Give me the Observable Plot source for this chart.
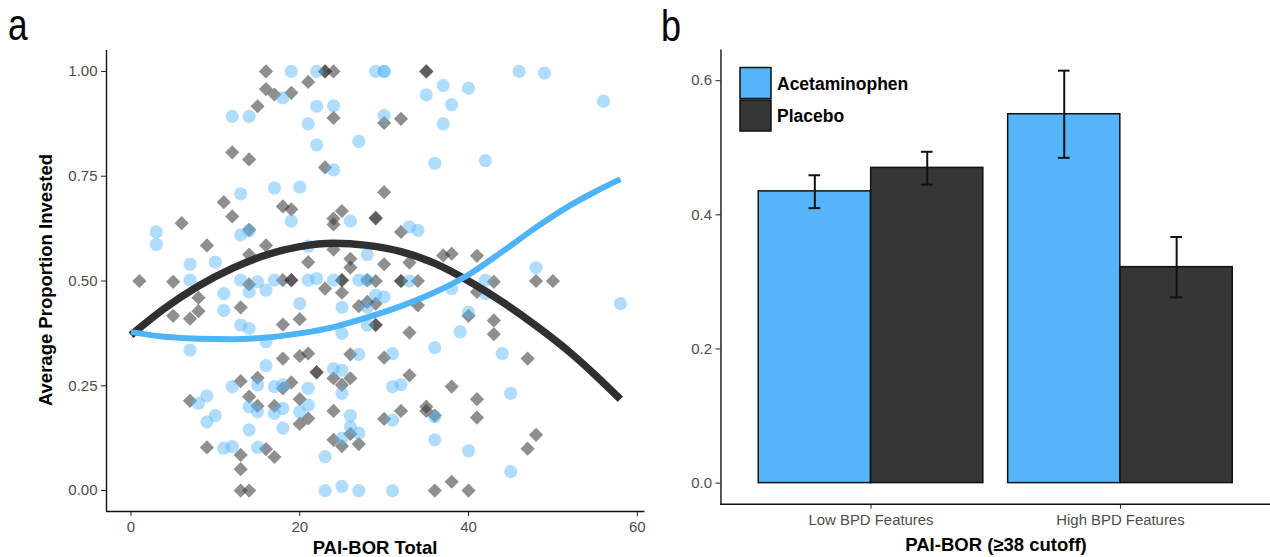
<!DOCTYPE html>
<html><head><meta charset="utf-8">
<script src="https://cdn.jsdelivr.net/npm/d3@7"></script>
<script src="https://cdn.jsdelivr.net/npm/@observablehq/plot@0.6"></script>
<style>
html,body{margin:0;padding:0;background:#fff;overflow:hidden;width:1270px;height:557px;}
#wrap{position:relative;width:1270px;height:557px;overflow:hidden;font-family:"Liberation Sans",Arial,sans-serif;}
.panel{position:absolute;top:0;}
#overlay{position:absolute;left:0;top:0;pointer-events:none;}
</style></head>
<body><div id="wrap"><div id="pa" class="panel" style="left:0"></div><div id="pb" class="panel" style="left:638px"></div><svg id="overlay" width="1270" height="557"></svg></div>
<script>
// ---------- Panel a data ----------
const xDomainA = [-2.9, 60.9];
const yDomainA = [-0.05, 1.05];
const xTicksA = [0, 20, 40, 60];
const yTicksA = [0, 0.25, 0.5, 0.75, 1];

const placeboX = [16,23,23,24,21,16,17,19,15,24,12,14,23,11,12,18,19,25,24,24,6,29,9,14,14,16,21,24,26,26,
  35,35,30,32,30,29,32,37,38,41,30,33,
  1,5,14,18,19,19,23,25,25,25,28,8,5,7,8,13,18,20,27,28,29,18,20,21,26,22,22,13,15,19,18,24,25,26,7,14,15,17,20,24,20,21,26,24,25,27,9,13,16,17,13,13,14,
  29,32,32,34,43,48,50,29,34,41,29,33,40,43,43,30,47,33,38,41,30,32,35,35,36,41,48,47,36,38,40];
const placeboY = [1.00,1.00,1.00,1.00,0.975,0.958,0.945,0.949,0.917,0.889,0.807,0.79,0.771,0.688,0.654,0.678,0.671,0.667,0.649,0.635,0.638,0.649,0.585,0.622,0.563,0.585,0.545,0.575,0.553,0.532,
  1.00,1.00,0.877,0.887,0.712,0.651,0.617,0.561,0.565,0.56,0.54,0.544,
  0.50,0.498,0.492,0.502,0.502,0.502,0.482,0.502,0.502,0.472,0.502,0.46,0.417,0.41,0.428,0.437,0.396,0.409,0.44,0.45,0.395,0.315,0.321,0.327,0.325,0.282,0.282,0.261,0.269,0.258,0.244,0.268,0.252,0.268,0.214,0.224,0.202,0.202,0.218,0.19,0.159,0.172,0.135,0.121,0.106,0.111,0.103,0.085,0.099,0.08,0.051,0.0,0.0,
  0.50,0.50,0.50,0.50,0.498,0.50,0.50,0.446,0.442,0.474,0.395,0.377,0.417,0.406,0.373,0.317,0.315,0.275,0.248,0.218,0.171,0.19,0.2,0.19,0.179,0.174,0.133,0.10,0.0,0.021,0.0];

const acetX = [19,22,18,22,24,12,14,21,22,27,24,17,20,13,19,26,3,3,13,14,7,10,28,21,
  29,30,30,46,49,56,37,40,35,38,37,30,36,42,33,34,48,
  7,11,11,13,15,16,14,17,21,22,24,27,28,20,25,28,13,14,25,28,16,7,27,16,24,25,12,15,17,18,21,25,9,8,14,15,17,18,20,21,10,9,14,18,26,26,27,25,11,12,15,23,23,25,27,
  29,30,33,38,42,42,40,39,36,31,44,31,32,45,31,36,36,40,45,31,58];
const acetY = [1.0,1.0,0.937,0.917,0.918,0.893,0.893,0.875,0.825,0.833,0.765,0.722,0.724,0.708,0.643,0.643,0.617,0.587,0.61,0.62,0.54,0.545,0.563,0.583,
  1.0,1.0,1.0,1.0,0.996,0.929,0.966,0.96,0.944,0.921,0.875,0.895,0.781,0.787,0.629,0.621,0.532,
  0.502,0.47,0.43,0.502,0.498,0.478,0.474,0.502,0.502,0.506,0.502,0.502,0.502,0.446,0.437,0.438,0.395,0.387,0.375,0.395,0.355,0.335,0.325,0.298,0.291,0.287,0.248,0.252,0.248,0.252,0.244,0.232,0.226,0.208,0.2,0.188,0.184,0.196,0.188,0.204,0.179,0.164,0.145,0.149,0.179,0.152,0.137,0.125,0.101,0.105,0.103,0.081,0.0,0.01,0.0,
  0.466,0.462,0.5,0.482,0.502,0.47,0.426,0.379,0.341,0.327,0.327,0.248,0.253,0.232,0.168,0.176,0.121,0.095,0.045,0.0,0.446];

// fitted curves
const placeboCurveX = [0,4,8,12,16,20,24,28,32,36,40,44,48,52,55,58];
const placeboCurveY = [0.371,0.435,0.488,0.53,0.562,0.582,0.59,0.585,0.570,0.542,0.500,0.450,0.393,0.330,0.276,0.218];
const acetCurveX = [0,4,8,12,16,20,24,28,32,36,40,44,48,52,55,58];
const acetCurveY = [0.378,0.367,0.362,0.361,0.365,0.375,0.39,0.413,0.44,0.473,0.515,0.570,0.628,0.680,0.713,0.743];

// ---------- Panel b data ----------
const groups = ["Low BPD Features", "High BPD Features"];
const treatments = ["Acetaminophen", "Placebo"];
const acetMean = [0.435, 0.550];
const acetLo = [0.410, 0.485];
const acetHi = [0.459, 0.615];
const placeboMean = [0.470, 0.322];
const placeboLo = [0.445, 0.277];
const placeboHi = [0.494, 0.367];
const yDomainB = [-0.0316, 0.6455];
const yTicksB = [0, 0.2, 0.4, 0.6];

const colBlue = "#56b5fa", colDark = "#363636";
const fontFam = "'Liberation Sans', Arial, sans-serif";

const placebo = placeboX.map((x, i) => ({x, y: placeboY[i]}));
const acet = acetX.map((x, i) => ({x, y: acetY[i]}));
const placeboCurve = placeboCurveX.map((x, i) => ({x, y: placeboCurveY[i]}));
const acetCurve = acetCurveX.map((x, i) => ({x, y: acetCurveY[i]}));

const plotA = Plot.plot({
  width: 660, height: 557,
  marginLeft: 106, marginRight: 15.6, marginTop: 50, marginBottom: 46,
  x: {domain: xDomainA},
  y: {domain: yDomainA},
  style: {fontFamily: fontFam, fontSize: "15px", background: "transparent", color: "#222"},
  marks: [
    Plot.dot(placebo, {x: "x", y: "y", symbol: d3.symbolDiamond2, r: 6.4, fill: "#333333", fillOpacity: 0.55, stroke: "none"}),
    Plot.dot(acet, {x: "x", y: "y", r: 6.6, fill: colBlue, fillOpacity: 0.46, stroke: "none"}),
    Plot.line(placeboCurve, {x: "x", y: "y", stroke: "#303030", strokeWidth: 7.5, strokeLinecap: "butt", curve: "monotone-x"}),
    Plot.line(acetCurve, {x: "x", y: "y", stroke: "#4fb3f7", strokeWidth: 6, strokeLinecap: "butt", curve: "monotone-x"}),
    Plot.ruleX([xDomainA[0]], {stroke: "#111", strokeWidth: 1.4}),
    Plot.ruleY([yDomainA[0]], {stroke: "#111", strokeWidth: 1.4}),
    Plot.axisY({ticks: yTicksA, tickFormat: d3.format(".2f"), tickSize: 5, tickPadding: 4, label: null, fill: "#4d4d4d", stroke: "#222"}),
    Plot.axisX({ticks: xTicksA, tickFormat: d3.format("d"), tickSize: 5, tickPadding: 5, label: null, fill: "#4d4d4d", stroke: "#222"})
  ]
});
document.getElementById("pa").appendChild(plotA);

// panel b geometry for dodging within a band
const wB = 636, mlB = 83, mrB = 0, padIn = 0.1, padOut = 0.15;
const stepB = (wB - mlB - mrB) / (groups.length - padIn + 2 * padOut);
const bwB = stepB * (1 - padIn);
const capHalf = 6;

const acetRows = groups.map((g, i) => ({group: g, value: acetMean[i], lo: acetLo[i], hi: acetHi[i]}));
const placeboRows = groups.map((g, i) => ({group: g, value: placeboMean[i], lo: placeboLo[i], hi: placeboHi[i]}));

const errMarks = (rows, dx) => [
  Plot.ruleX(rows, {x: "group", y1: "lo", y2: "hi", dx, stroke: "#111", strokeWidth: 2}),
  Plot.tickY(rows, {x: "group", y: "hi", dx, insetLeft: bwB / 2 - capHalf, insetRight: bwB / 2 - capHalf, stroke: "#111", strokeWidth: 2}),
  Plot.tickY(rows, {x: "group", y: "lo", dx, insetLeft: bwB / 2 - capHalf, insetRight: bwB / 2 - capHalf, stroke: "#111", strokeWidth: 2})
];

const plotB = Plot.plot({
  width: wB, height: 557,
  marginLeft: mlB, marginRight: mrB, marginTop: 50, marginBottom: 50,
  x: {domain: groups, paddingInner: padIn, paddingOuter: padOut, align: 0.5},
  y: {domain: yDomainB},
  style: {fontFamily: fontFam, fontSize: "15px", background: "transparent", color: "#222"},
  marks: [
    Plot.barY(acetRows, {x: "group", y: "value", fill: colBlue, stroke: "#111", strokeWidth: 1.5, insetRight: bwB / 2}),
    Plot.barY(placeboRows, {x: "group", y: "value", fill: colDark, stroke: "#111", strokeWidth: 1.5, insetLeft: bwB / 2}),
    ...errMarks(acetRows, -bwB / 4),
    ...errMarks(placeboRows, bwB / 4),
    Plot.frame({anchor: "left", stroke: "#111", strokeWidth: 1.4}),
    Plot.frame({anchor: "bottom", stroke: "#111", strokeWidth: 1.4}),
    Plot.axisY({ticks: yTicksB, tickFormat: d3.format(".1f"), tickSize: 5, tickPadding: 4, label: null, fill: "#4d4d4d", stroke: "#222"}),
    Plot.axisX({tickSize: 5, tickPadding: 5, label: null, fill: "#4d4d4d", stroke: "#222"})
  ]
});
document.getElementById("pb").appendChild(plotB);

// ---------- overlay texts & legend ----------
const ov = d3.select("#overlay").style("font-family", fontFam);
ov.append("text").attr("transform", "translate(8,40) scale(0.8,1)").attr("font-size", 44).text("a");
ov.append("text").attr("transform", "translate(661,41) scale(0.8,1)").attr("font-size", 45).text("b");
ov.append("text").attr("transform", "translate(52,280) rotate(-90)").attr("text-anchor", "middle")
  .attr("font-size", 18.5).attr("font-weight", "bold").text("Average Proportion Invested");
ov.append("text").attr("x", 375).attr("y", 554).attr("text-anchor", "middle")
  .attr("font-size", 18.5).attr("font-weight", "bold").text("PAI-BOR Total");
ov.append("text").attr("x", 996).attr("y", 551).attr("text-anchor", "middle")
  .attr("font-size", 18.5).attr("font-weight", "bold").text("PAI-BOR (≥38 cutoff)");
const legendColors = [colBlue, colDark];
treatments.forEach((t, i) => {
  ov.append("rect").attr("x", 740).attr("y", 67.5 + i * 32.5).attr("width", 31).attr("height", 31)
    .attr("fill", legendColors[i]).attr("stroke", "#111").attr("stroke-width", 1.5);
  ov.append("text").attr("x", 777).attr("y", 89.5 + i * 32.5).attr("font-size", 17.5)
    .attr("font-weight", "bold").text(t);
});
</script></body></html>
